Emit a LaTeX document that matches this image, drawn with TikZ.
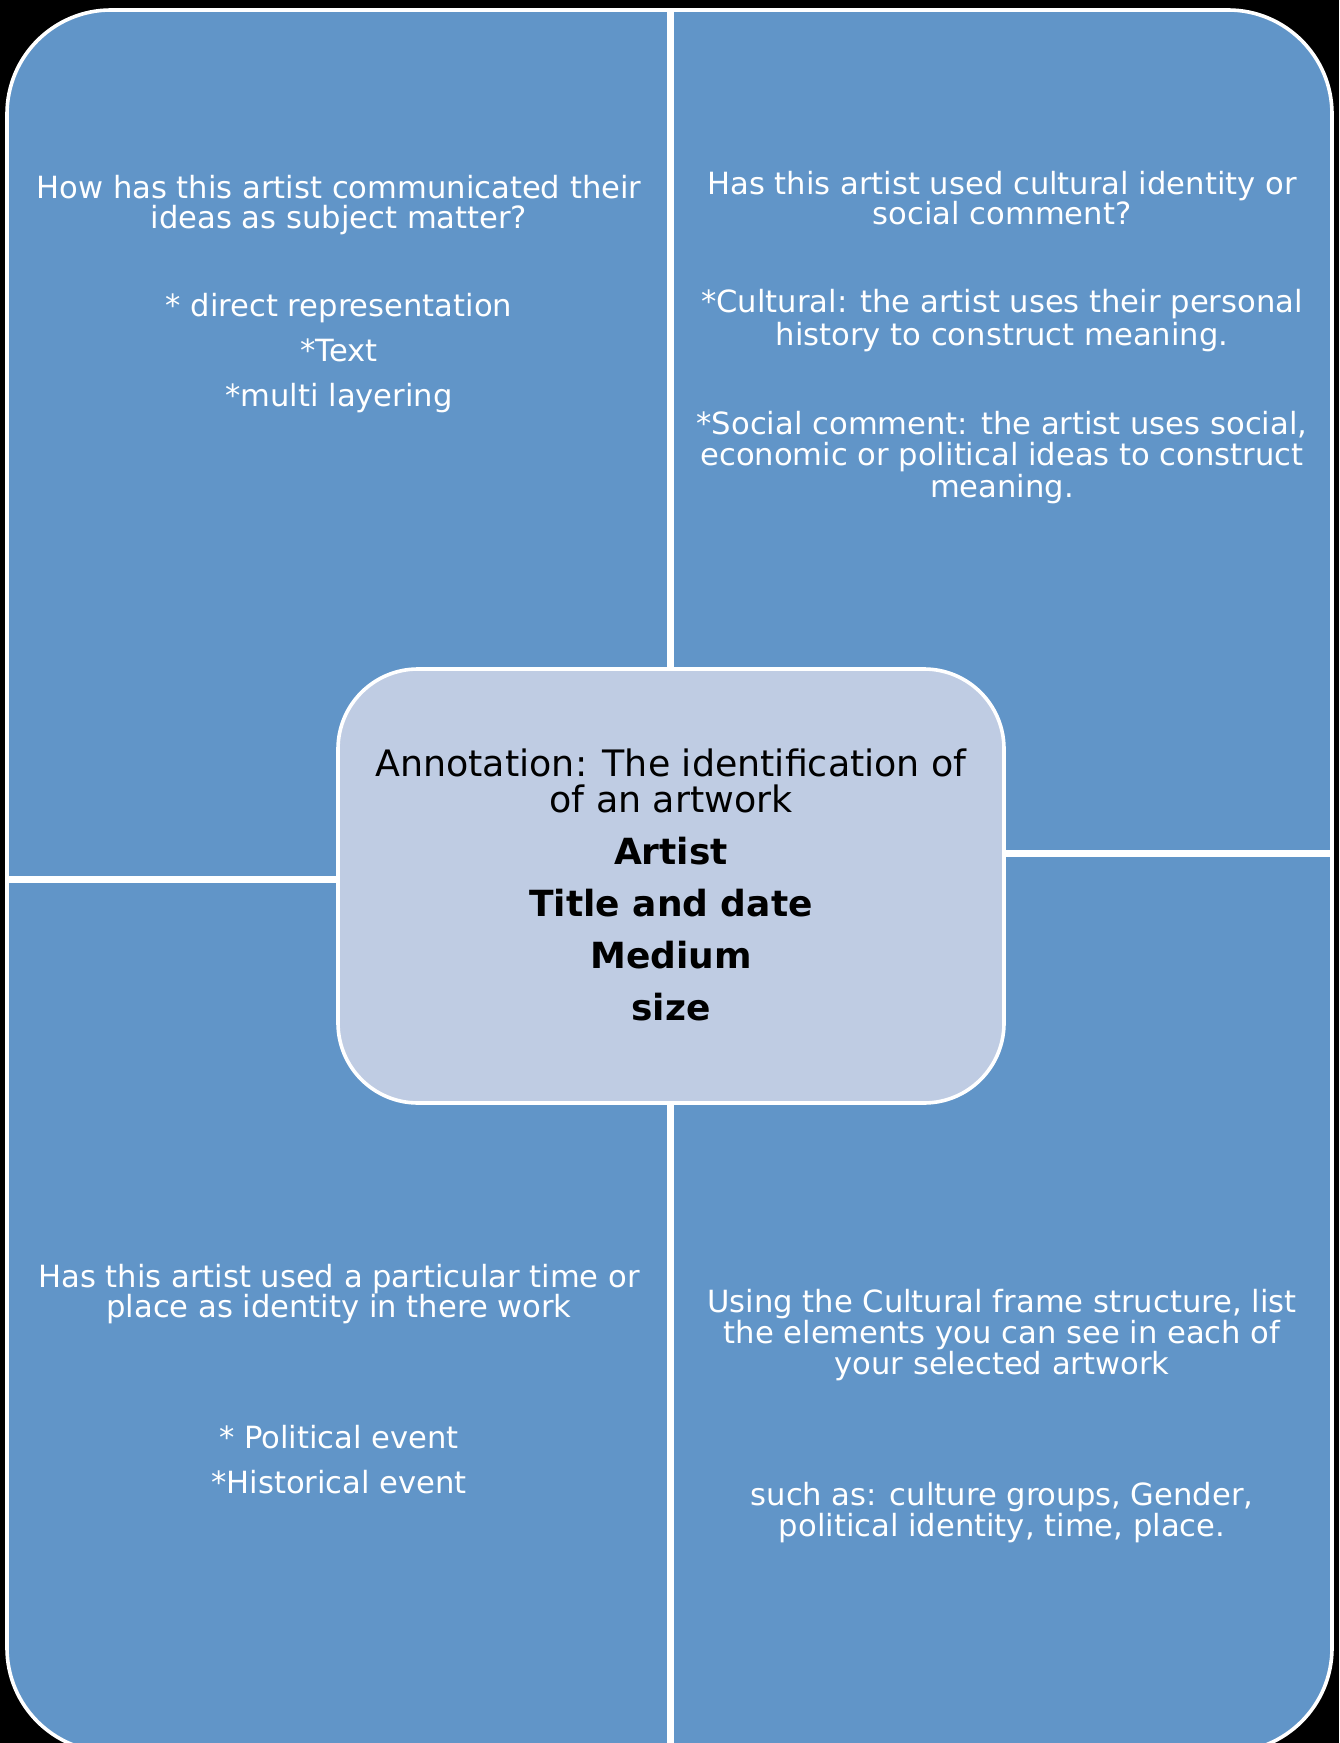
\documentclass[tikz,border=0pt]{standalone}
\usepackage{fontspec}
\setmainfont{DejaVu Sans}
\definecolor{quadblue}{RGB}{97,149,200}
\definecolor{boxblue}{RGB}{191,204,227}
\tikzset{
  quadtext/.style={text=white, align=center, inner sep=0pt,
    font=\fontsize{15.3}{15}\selectfont},
  midtext/.style={text=black, align=center, inner sep=0pt,
    font=\fontsize{18}{18}\selectfont},
  divider/.style={white, line width=3.5pt}
}

\begin{document}
\lineskiplimit=-30pt
\begin{tikzpicture}[x=0.5pt,y=-0.5pt]
  \fill [black] (0,0) coordinate (pg) rectangle (1339,1743);
  \useasboundingbox (0,0) rectangle (1339,1743);
  \filldraw [fill=quadblue, draw=white, line width=1.8pt, rounded corners=52pt] (7,10) coordinate (otl) rectangle (1332,1752) coordinate (obr);
  \draw [divider] (670,10) coordinate (vt) -- (670,1752) coordinate (vb);
  \draw [divider] (7,879) coordinate (hl) -- (vt |- hl);
  \draw [divider] (670,853) coordinate (hm) -- (1332,853) coordinate (hr);
  \filldraw [fill=boxblue, draw=white, line width=1.8pt, rounded corners=40pt] (338,669) coordinate (mtl) rectangle (1004,1103) coordinate (mbr);
  \node [quadtext] (tl) at (339,294) {How has this artist communicated their\\ideas as subject matter?\\[29pt]{*} direct representation\\[7.5pt]{*}Text\\[7.5pt]{*}multi layering};
  \node [quadtext] (tr) at (1002,338) {Has this artist used cultural identity or\\social comment?\\[29pt]{*}Cultural: the artist uses their personal\\[1.5pt]history to construct meaning.\\[29.5pt]{*}Social comment: the artist uses social,\\[0.5pt]economic or political ideas to construct\\[1pt]meaning.};
  \node [quadtext] (bl) at (339,1379) {Has this artist used a particular time or\\place as identity in there work\\[50.5pt]{*} Political event\\[7.5pt]{*}Historical event};
  \node [quadtext] (br) at (1002,1416) {Using the Cultural frame structure, list\\[0.5pt]the elements you can see in each of\\[0.5pt]your selected artwork\\[50.5pt]such as: culture groups, Gender,\\[0.5pt]political identity, time, place.};
  \node [midtext] (mid) at (671,885) {{\fontsize{18.2}{18}\selectfont Annotation: The identification of}\\{\fontsize{18.2}{18}\selectfont of an artwork}\\[8pt]\textbf{Artist}\\[8pt]\textbf{Title and date}\\[8pt]\textbf{Medium}\\[8pt]\textbf{size}};
\end{tikzpicture}
\end{document}
